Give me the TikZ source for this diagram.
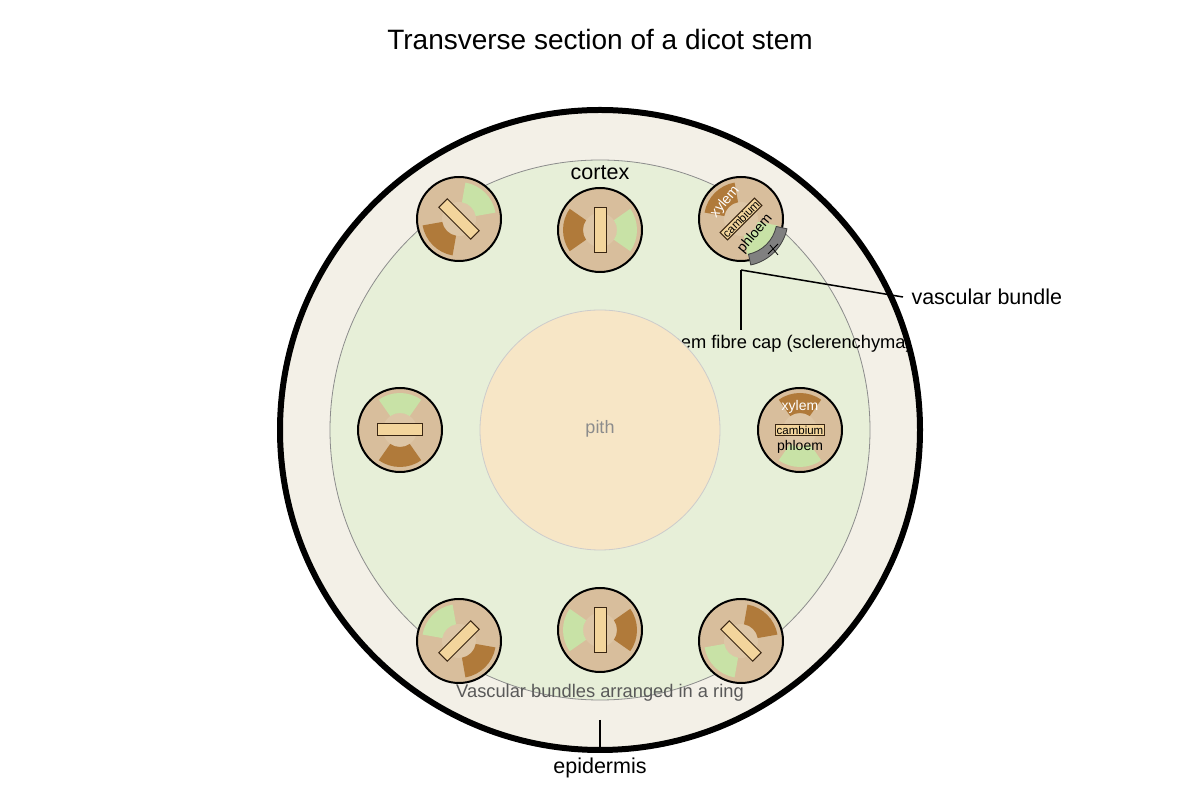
\documentclass[tikz,border=0pt]{standalone}
\usetikzlibrary{calc}
\usepackage{fontspec}
\setmainfont{Liberation Sans}
\definecolor{epi}{HTML}{F3F0E7}
\definecolor{cortexc}{HTML}{E7EFD8}
\definecolor{pithc}{HTML}{F7E6C6}
\definecolor{tan}{HTML}{D8BE9C}
\definecolor{tanl}{HTML}{DDC6A6}
\definecolor{xyl}{HTML}{B07A3A}
\definecolor{phl}{HTML}{C8E2A6}
\definecolor{camb}{HTML}{F3D59C}
\newcommand\vbund[4]{%
\begin{scope}[shift={(#1,#2)},rotate=#3]
\filldraw[fill=tan,draw=black,line width=2pt] (0,0) circle[radius=42];
\fill[tanl] (0,0) circle[radius=17];
\fill[xyl] (-35:17) -- (-35:37) arc[start angle=-35,end angle=35,radius=37] -- (35:17) arc[start angle=35,end angle=-35,radius=17] -- cycle;
\fill[phl] (145:17) -- (145:37) arc[start angle=145,end angle=215,radius=37] -- (215:17) arc[start angle=215,end angle=145,radius=17] -- cycle;
#4
\end{scope}}
\tikzset{lbl/.style={font=\fontsize{21.5}{25}\selectfont},
 rectc/.style={fill=camb,draw=black!70!brown,line width=1pt}}
\begin{document}
\begin{tikzpicture}[x=1pt,y=1pt]
\useasboundingbox (0,0) rectangle (1200,800);
\fill[white] (0,0) rectangle (1200,800);
\node[font=\fontsize{28}{32}\selectfont] (title) at (600,760) {Transverse section of a dicot stem};
\fill[epi] (600,370) circle[radius=320];
\filldraw[fill=cortexc,draw=black!45,line width=0.8pt] (600,370) circle[radius=270];
\node[font=\fontsize{18.3}{21}\selectfont] (fcap) at (778,456) {Phloem fibre cap (sclerenchyma)};
\filldraw[fill=pithc,draw=black!20,line width=0.8pt] (600,370) circle[radius=120];
\draw[line width=6pt] (600,370) circle[radius=320];
\node[font=\fontsize{18}{21}\selectfont,text=black!45] (pith) at (600,371) {pith};
\node[lbl] (cortex) at (600,627) {cortex};
\node[font=\fontsize{18.3}{21}\selectfont,text=black!65] (ring) at (600,107) {Vascular bundles arranged in a ring};
% bundles
\vbund{600}{570}{180}{\filldraw[rectc] (-6,-22.5) rectangle (6,22.5);}
\vbund{459}{581}{225}{\filldraw[rectc] (-6,-22.5) rectangle (6,22.5);}
\vbund{400}{370}{270}{\filldraw[rectc] (-6,-22.5) rectangle (6,22.5);}
\vbund{459}{159}{-45}{\filldraw[rectc] (-6,-22.5) rectangle (6,22.5);}
\vbund{600}{170}{0}{\filldraw[rectc] (-6,-22.5) rectangle (6,22.5);}
\vbund{741}{159}{45}{\filldraw[rectc] (-6,-22.5) rectangle (6,22.5);}
\vbund{800}{370}{90}{}
\vbund{741}{581}{135}{}
% right bundle labels
\node[font=\fontsize{14}{16}\selectfont,text=white] (xr) at (800,393) {xylem};
\node[rectc,inner sep=1pt,font=\fontsize{11.5}{12}\selectfont] (cr) at (800,370) {cambium};
\node[font=\fontsize{14}{16}\selectfont] (pr) at (800,353) {phloem};
% top-right bundle labels and fibre cap
\filldraw[fill=black!50,draw=black!75,line width=0.8pt] ($(741,581)+(-78:36)$) arc[start angle=-78,end angle=-12,radius=36] -- ($(741,581)+(-12:47)$) arc[start angle=-12,end angle=-78,radius=47] -- cycle;
\draw[line width=0.8pt] (768,546) -- (778,556) (770,555) -- (778,545);
\node[font=\fontsize{14}{16}\selectfont,text=white,rotate=50] (xtr) at (725,598) {xylem};
\node[rectc,inner sep=1pt,rotate=45,font=\fontsize{11.5}{12}\selectfont] (ctr) at (741,581) {cambium};
\node[font=\fontsize{14}{16}\selectfont,rotate=50] (ptr) at (755,566) {phloem};
% leaders
\coordinate (vbp) at (741,530);
\coordinate (vbe) at (903,503);
\node[lbl,anchor=west] (vbl) at (908,503) {vascular bundle};
\draw[line width=1.5pt] (vbp) -- (vbe);
\coordinate (fc) at (741,470);
\draw[line width=1.5pt] (vbp) -- (fc);
\coordinate (e1) at (600,80);
\coordinate (e2) at (600,52);
\draw[line width=1.5pt] (e1) -- (e2);
\node[lbl] (epid) at (600,32) {epidermis};
\end{tikzpicture}
\end{document}
